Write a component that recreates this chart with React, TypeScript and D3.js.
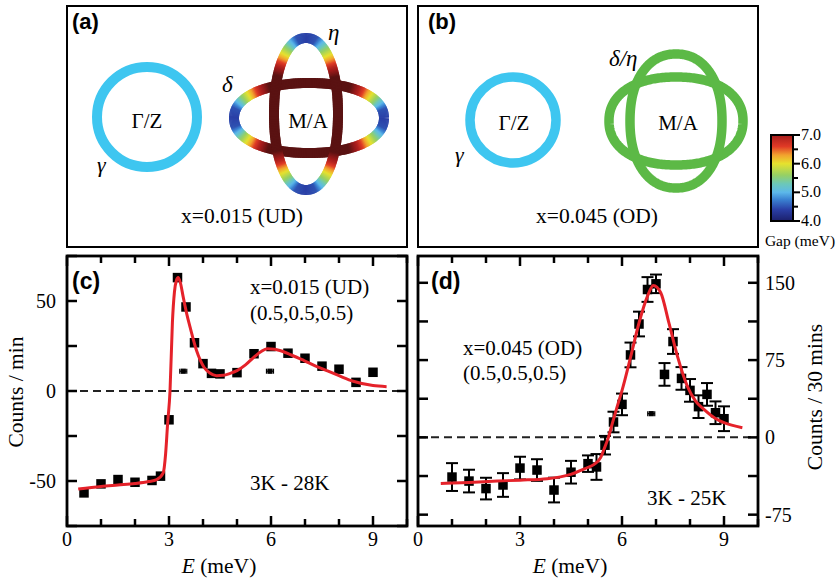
import React from 'react';
import * as d3 from 'd3';

const serif = "'Liberation Serif', 'Times New Roman', serif";
const sans = "'Liberation Sans', Arial, sans-serif";

// panel (c): x=0.015 (UD), 3K - 28K difference
const cEnergy = [0.5, 1, 1.5, 2, 2.5, 2.75, 3, 3.25, 3.5, 3.75, 4, 4.25, 4.5, 5, 5.5, 6, 6.5, 7, 7.5, 8, 8.5, 9];
const cCounts = [-56.6, -51.6, -49.2, -50.7, -49.7, -47.3, -16, 63, 46.7, 26.8, 15.2, 9.8, 9.5, 10.2, 20.7, 24.7, 21, 18.2, 13.8, 12.1, 4.8, 10.4];
const cFitE = [0.33, 1.0, 1.5, 2.0, 2.4, 2.64, 2.83, 2.9, 2.96, 3.03, 3.1, 3.16, 3.22, 3.27, 3.33, 3.42, 3.52, 3.62, 3.81, 4.03, 4.2, 4.4, 4.6, 4.8, 5.0, 5.25, 5.5, 5.7, 5.89, 6.1, 6.26, 6.6, 6.97, 7.3, 7.64, 8.0, 8.42, 9.0, 9.4];
const cFitCounts = [-54.4, -53, -52.2, -51.4, -50.3, -49.2, -45.5, -35, -18, 0, 38, 55, 61.5, 63, 60.5, 52, 43, 35.5, 22.5, 13.2, 10, 8.5, 8.7, 9.8, 11.3, 14.5, 18.8, 21.8, 23.5, 23.2, 22.5, 20, 16.9, 14, 11.3, 8.5, 5.4, 3.0, 2.4];
const cResE = [3.42, 5.97];
const cResCounts = [11, 11];

// panel (d): x=0.045 (OD), 3K - 25K difference
const dEnergy = [1, 1.5, 2, 2.5, 3, 3.5, 4, 4.5, 5, 5.25, 5.5, 5.75, 6, 6.25, 6.5, 6.75, 7, 7.25, 7.5, 7.75, 8, 8.25, 8.5, 8.75, 9];
const dCounts = [-38.5, -42.4, -49.7, -46.2, -29.8, -31.7, -51.1, -33.8, -25.5, -28.7, -7.6, 14.9, 32, 80, 110, 143.5, 149, 61.1, 93, 57.2, 45.6, 29.8, 41.7, 23.9, 18.1];
const dErr = [13.5, 11, 10.5, 11.5, 11, 10.5, 12, 11, 8, 12.5, 9, 10, 10.5, 12, 12, 12, 9, 11, 12, 11, 11, 11, 11, 11, 12];
const dFitE = [0.67, 1.5, 2.33, 3.0, 3.8, 4.49, 4.9, 5.18, 5.37, 5.47, 5.6, 5.72, 5.86, 6.01, 6.26, 6.5, 6.75, 6.92, 7.14, 7.38, 7.63, 7.92, 8.17, 8.41, 8.76, 9.0, 9.54];
const dFitCounts = [-44.8, -43.8, -42.4, -41.5, -40.1, -35.9, -30.5, -26.2, -19.7, -11.6, 0, 14, 30, 46.6, 78.9, 111, 137, 147.4, 140.3, 111, 78.9, 49.8, 35, 27.2, 18.1, 14.2, 9.4];
const dResE = [6.86];
const dResCounts = [23];

const xTicks = [0, 1, 2, 3, 4, 5, 6, 7, 8, 9, 10];
const xTickLabels = [0, 3, 6, 9];
const cYTicks = [-75, -50, -25, 0, 25, 50, 75];
const cYTickLabels = [-50, 0, 50];
const dYTicks = [-75, -37.5, 0, 37.5, 75, 112.5, 150];
const dYTickLabels = [-75, 0, 75, 150];

// gap colour bar
const gapStops = [4.0, 4.4, 4.75, 5.0, 5.3, 5.6, 6.0, 6.3, 6.6, 7.0];
const gapColors = ['#1b1f6b', '#2a3fa6', '#3a82d2', '#5cb8ea', '#6cc8b8', '#96d064', '#e6e22e', '#f2a22e', '#e03a26', '#a51c1c'];
const gapTicks = [4, 5, 6, 7];
const gapMinorTicks = [4.5, 5.5, 6.5];
// gap along the ends of the delta / eta pockets, by angle (deg) away from the tip
const endAngle = [0, 7, 11, 15, 19, 24, 29, 37];
const endGap = [4.4, 4.5, 5.0, 5.5, 5.9, 6.4, 6.9, 7.4];

const gapColor = d3.scaleLinear<string>()
  .domain([...gapStops, 7.4])
  .range([...gapColors, '#5a1212'])
  .clamp(true);
const gapAt = d3.scaleLinear().domain(endAngle).range(endGap).clamp(true);

function superEllipse(cx: number, cy: number, a: number, b: number, n: number, steps = 300) {
  const pts: [number, number][] = [];
  for (let i = 0; i <= steps; i++) {
    const t = (i / steps) * Math.PI * 2;
    const c = Math.cos(t), s = Math.sin(t);
    pts.push([
      cx + a * Math.sign(c) * Math.pow(Math.abs(c), 2 / n),
      cy + b * Math.sign(s) * Math.pow(Math.abs(s), 2 / n),
    ]);
  }
  return pts;
}

const ellipsePath = (cx: number, cy: number, a: number, b: number, n: number) =>
  d3.line()(superEllipse(cx, cy, a, b, n)) + 'Z';

function GapPocket({ cx, cy, a, b, n, horizontal }: any) {
  const pts = superEllipse(cx, cy, a, b, n);
  const segs = [];
  for (let i = 0; i < pts.length - 2; i++) {
    const p = pts[i], q = pts[i + 2];
    const dx = Math.abs(p[0] - cx), dy = Math.abs(p[1] - cy);
    const ang = (Math.atan2(horizontal ? dy : dx, horizontal ? dx : dy) * 180) / Math.PI;
    segs.push(<line key={i} x1={p[0]} y1={p[1]} x2={q[0]} y2={q[1]} stroke={gapColor(gapAt(ang))} strokeWidth={10} />);
  }
  return <g>{segs}</g>;
}

function Spectrum(props: any) {
  const { x0, x1, y0, y1, yDomain, energy, counts, err, fitE, fitV, resE, resV, yTicks, yLabels, labelLeft } = props;
  const x = d3.scaleLinear().domain([0, 10]).range([x0, x1]);
  const y = d3.scaleLinear().domain(yDomain).range([y1, y0]);
  const fit = d3.line<number>().x(d => x(fitE[d])).y(d => y(fitV[d])).curve(d3.curveMonotoneX);
  const sq = 9.5;
  return (
    <g>
      <line x1={x0} x2={x1} y1={y(0)} y2={y(0)} stroke="#222" strokeWidth={2} strokeDasharray="8,5" />
      {err && energy.map((e: number, i: number) => (
        <g key={'e' + i} stroke="#000" strokeWidth={2}>
          <line x1={x(e)} x2={x(e)} y1={y(counts[i] - err[i])} y2={y(counts[i] + err[i])} />
          <line x1={x(e) - 6} x2={x(e) + 6} y1={y(counts[i] - err[i])} y2={y(counts[i] - err[i])} />
          <line x1={x(e) - 6} x2={x(e) + 6} y1={y(counts[i] + err[i])} y2={y(counts[i] + err[i])} />
        </g>
      ))}
      {energy.map((e: number, i: number) => (
        <rect key={'s' + i} x={x(e) - sq / 2} y={y(counts[i]) - sq / 2} width={sq} height={sq} fill="#000" />
      ))}
      {resE.map((e: number, i: number) => (
        <g key={'r' + i} stroke="#000" strokeWidth={1.2}>
          <rect x={x(e) - 2} y={y(resV[i]) - 2} width={4} height={4} fill="#000" />
          <line x1={x(e) - 3.5} x2={x(e) + 3.5} y1={y(resV[i])} y2={y(resV[i])} />
          <line x1={x(e) - 3.5} x2={x(e) - 3.5} y1={y(resV[i]) - 2.5} y2={y(resV[i]) + 2.5} />
          <line x1={x(e) + 3.5} x2={x(e) + 3.5} y1={y(resV[i]) - 2.5} y2={y(resV[i]) + 2.5} />
        </g>
      ))}
      <path d={fit(d3.range(fitE.length)) || ''} fill="none" stroke="#e5222a" strokeWidth={3} />
      {xTicks.map(t => {
        const len = xTickLabels.includes(t) ? 10 : 7;
        return (
          <g key={'xt' + t} stroke="#000" strokeWidth={2.5}>
            <line x1={x(t)} x2={x(t)} y1={y1} y2={y1 - len} />
            <line x1={x(t)} x2={x(t)} y1={y0} y2={y0 + len} />
          </g>
        );
      })}
      {yTicks.map((t: number) => (
        <g key={'yt' + t} stroke="#000" strokeWidth={2.5}>
          <line x1={x0} x2={x0 + 10} y1={y(t)} y2={y(t)} />
          <line x1={x1} x2={x1 - 10} y1={y(t)} y2={y(t)} />
        </g>
      ))}
      <rect x={x0} y={y0} width={x1 - x0} height={y1 - y0} fill="none" stroke="#000" strokeWidth={2.8} />
      {xTickLabels.map(t => (
        <text key={'xl' + t} x={x(t)} y={546} textAnchor="middle" fontFamily={serif} fontSize={20}>{t}</text>
      ))}
      {yLabels.map((t: number) => (
        <text key={'yl' + t} x={labelLeft ? x0 - 11 : x1 + 7} y={y(t) + 7} textAnchor={labelLeft ? 'end' : 'start'} fontFamily={serif} fontSize={20}>{t}</text>
      ))}
      <text x={(x0 + x1) / 2 - 18} y={573} textAnchor="middle" fontFamily={serif} fontSize={21.5}>
        <tspan fontStyle="italic">E</tspan> (meV)
      </text>
    </g>
  );
}

export default function App() {
  const gapY = d3.scaleLinear().domain([4, 7]).range([221, 135]);
  return (
    <svg width={839} height={581} style={{ position: 'absolute', left: 0, top: 0, background: '#fff' }}>
      <defs>
        <linearGradient id="gapGrad" x1="0" y1="1" x2="0" y2="0">
          {gapStops.map((g, i) => <stop key={g} offset={(g - 4) / 3} stopColor={gapColors[i]} />)}
        </linearGradient>
      </defs>
      <rect width={839} height={581} fill="#fff" />

      {/* (a) */}
      <rect x={67} y={6} width={340} height={241} fill="none" stroke="#000" strokeWidth={2} />
      <text x={72} y={29} fontFamily={sans} fontWeight="bold" fontSize={22}>(a)</text>
      <circle cx={147} cy={117} r={50} fill="none" stroke="#3ec6f0" strokeWidth={10} />
      <text x={147} y={128} textAnchor="middle" fontFamily={serif} fontSize={21}>Γ/Z</text>
      <text x={97} y={172} fontFamily={serif} fontStyle="italic" fontSize={22}>γ</text>
      <GapPocket cx={309} cy={118} a={75} b={35} n={2.15} horizontal />
      <GapPocket cx={306} cy={114} a={32} b={76} n={2.15} horizontal={false} />
      <text x={308} y={128} textAnchor="middle" fontFamily={serif} fontSize={21}>M/A</text>
      <text x={222} y={92} fontFamily={serif} fontStyle="italic" fontSize={23}>δ</text>
      <text x={328} y={40} fontFamily={serif} fontStyle="italic" fontSize={23}>η</text>
      <text x={242} y={223} textAnchor="middle" fontFamily={serif} fontSize={21.5}>x=0.015 (UD)</text>

      {/* (b) */}
      <rect x={418} y={6} width={340} height={241} fill="none" stroke="#000" strokeWidth={2} />
      <text x={428} y={29} fontFamily={sans} fontWeight="bold" fontSize={22}>(b)</text>
      <circle cx={513} cy={120} r={43} fill="none" stroke="#3ec6f0" strokeWidth={9.5} />
      <text x={514} y={130} textAnchor="middle" fontFamily={serif} fontSize={21}>Γ/Z</text>
      <text x={455} y={162} fontFamily={serif} fontStyle="italic" fontSize={22}>γ</text>
      <path d={ellipsePath(676, 121, 67, 44, 2.2)} fill="none" stroke="#5cb946" strokeWidth={9.5} />
      <path d={ellipsePath(676, 121, 46, 67, 2.2)} fill="none" stroke="#5cb946" strokeWidth={9.5} />
      <text x={678} y={130} textAnchor="middle" fontFamily={serif} fontSize={21}>M/A</text>
      <text x={609} y={66} fontFamily={serif} fontStyle="italic" fontSize={23}>δ/η</text>
      <text x={597} y={223} textAnchor="middle" fontFamily={serif} fontSize={21.5}>x=0.045 (OD)</text>

      {/* colour bar */}
      <rect x={771} y={135} width={22} height={86} fill="url(#gapGrad)" stroke="#000" strokeWidth={2} />
      {gapTicks.map(g => (
        <g key={g}>
          <line x1={793} x2={800} y1={gapY(g)} y2={gapY(g)} stroke="#000" strokeWidth={2} />
          <text x={801} y={gapY(g) + 5} fontFamily={serif} fontSize={16}>{g.toFixed(1)}</text>
        </g>
      ))}
      {gapMinorTicks.map(g => (
        <line key={g} x1={793} x2={798} y1={gapY(g)} y2={gapY(g)} stroke="#000" strokeWidth={2} />
      ))}
      <text x={800} y={246} textAnchor="middle" fontFamily={serif} fontSize={15.5}>Gap (meV)</text>

      {/* (c) */}
      <Spectrum x0={67} x1={407} y0={256} y1={526} yDomain={[-75, 75]}
        energy={cEnergy} counts={cCounts} fitE={cFitE} fitV={cFitCounts}
        resE={cResE} resV={cResCounts} yTicks={cYTicks} yLabels={cYTickLabels} labelLeft />
      <text x={72} y={289} fontFamily={sans} fontWeight="bold" fontSize={23}>(c)</text>
      <text x={250} y={294} fontFamily={serif} fontSize={21}>x=0.015 (UD)</text>
      <text x={250} y={320} fontFamily={serif} fontSize={21}>(0.5,0.5,0.5)</text>
      <text x={250} y={490} fontFamily={serif} fontSize={21}>3K - 28K</text>
      <text transform="translate(23,392) rotate(-90)" textAnchor="middle" fontFamily={serif} fontSize={21.5}>Counts / min</text>

      {/* (d) */}
      <Spectrum x0={418} x1={758} y0={256} y1={526} yDomain={[-86, 176]}
        energy={dEnergy} counts={dCounts} err={dErr} fitE={dFitE} fitV={dFitCounts}
        resE={dResE} resV={dResCounts} yTicks={dYTicks} yLabels={dYTickLabels} labelLeft={false} />
      <text x={431} y={289} fontFamily={sans} fontWeight="bold" fontSize={23}>(d)</text>
      <text x={463} y={355} fontFamily={serif} fontSize={21}>x=0.045 (OD)</text>
      <text x={463} y={380} fontFamily={serif} fontSize={21}>(0.5,0.5,0.5)</text>
      <text x={647} y={505} fontFamily={serif} fontSize={21}>3K - 25K</text>
      <text transform="translate(822,397) rotate(-90)" textAnchor="middle" fontFamily={serif} fontSize={21.5}>Counts / 30 mins</text>
    </svg>
  );
}
